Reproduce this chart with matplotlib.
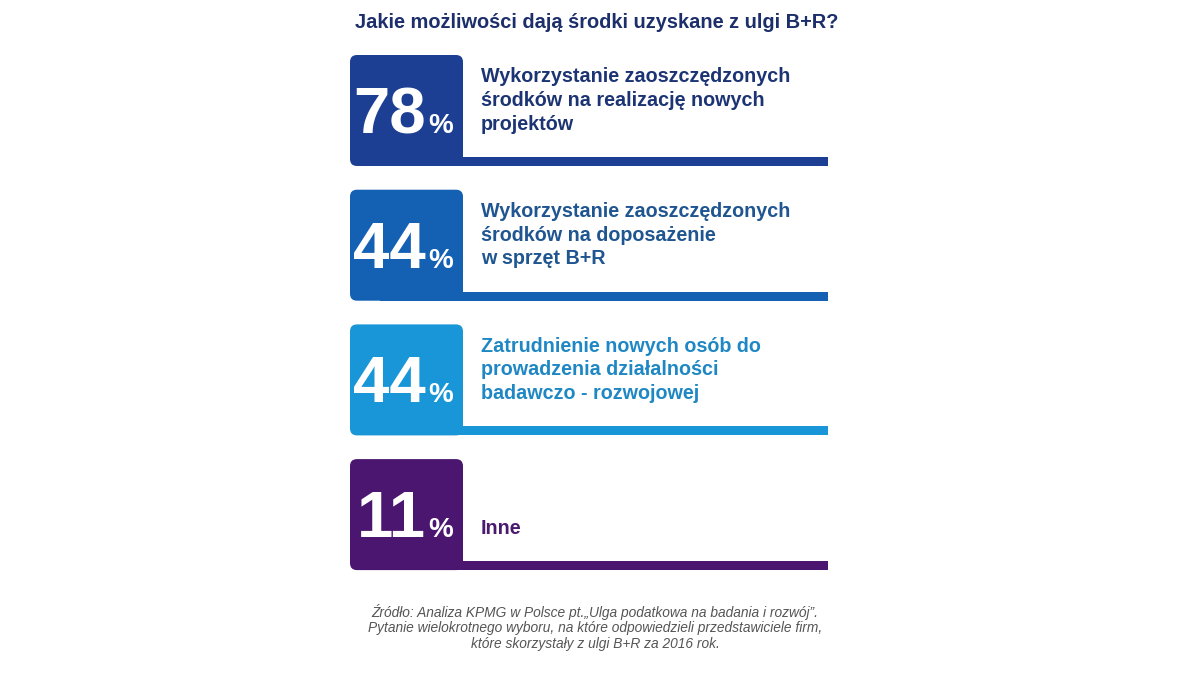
import matplotlib.pyplot as plt
from matplotlib.patches import FancyBboxPatch, Rectangle

# Dane
values = [78, 44, 44, 11]
labels = [
    ['Wykorzystanie zaoszczędzonych', 'środków na realizację nowych', 'projektów'],
    ['Wykorzystanie zaoszczędzonych', 'środków na doposażenie', 'w sprzęt B+R'],
    ['Zatrudnienie nowych osób do', 'prowadzenia działalności', 'badawczo - rozwojowej'],
    ['Inne'],
]
box_colors = ['#1c3f94', '#1461b4', '#1996d8', '#4a1670']
text_colors = ['#1c3474', '#1f5590', '#1f88c4', '#4a1a6e']
title = 'Jakie możliwości dają środki uzyskane z ulgi B+R?'
source = ['Źródło: Analiza KPMG w Polsce pt.„Ulga podatkowa na badania i rozwój”.',
          'Pytanie wielokrotnego wyboru, na które odpowiedzieli przedstawiciele firm,',
          'które skorzystały z ulgi B+R za 2016 rok.']

plt.rcParams['font.family'] = ['Liberation Sans', 'DejaVu Sans']

fig = plt.figure(figsize=(12, 6.75), dpi=100)
ax = fig.add_axes([0, 0, 1, 1])
ax.set_xlim(0, 1200)
ax.set_ylim(675, 0)
ax.axis('off')

# Tytul
ax.text(597, 22, title, fontsize=14.4, fontweight='bold', color='#1c2f6b',
        ha='center', va='center')

left, width, height = 350, 113, 111
line_end = 828
top0, step = 55, 134.7

for i, (val, lab) in enumerate(zip(values, labels)):
    top = top0 + i * step
    bottom = top + height
    box = FancyBboxPatch((left, top), width, height,
                         boxstyle='round,pad=0,rounding_size=7',
                         facecolor=box_colors[i], edgecolor='none')
    ax.add_patch(box)
    ax.add_patch(Rectangle((left + 30, bottom - 9), line_end - left - 30, 9,
                           facecolor=box_colors[i], edgecolor='none'))
    # liczba + procent
    ax.text(426, bottom - 33, str(val), fontsize=47, fontweight='bold',
            color='white', ha='right', va='baseline')
    ax.text(428, bottom - 33, '%', fontsize=20, fontweight='bold',
            color='white', ha='left', va='baseline')
    # opis
    n = len(lab)
    for k, line in enumerate(lab):
        y = bottom - 42 - (n - 1 - k) * 23.5
        ax.text(481, y, line, fontsize=14.2, fontweight='bold',
                color=text_colors[i], ha='left', va='center')

# Zrodlo
for k, line in enumerate(source):
    ax.text(595, 612 + k * 16, line, fontsize=9.9, style='italic',
            color='#555555', ha='center', va='center')

fig.savefig('out.png', dpi=100)
